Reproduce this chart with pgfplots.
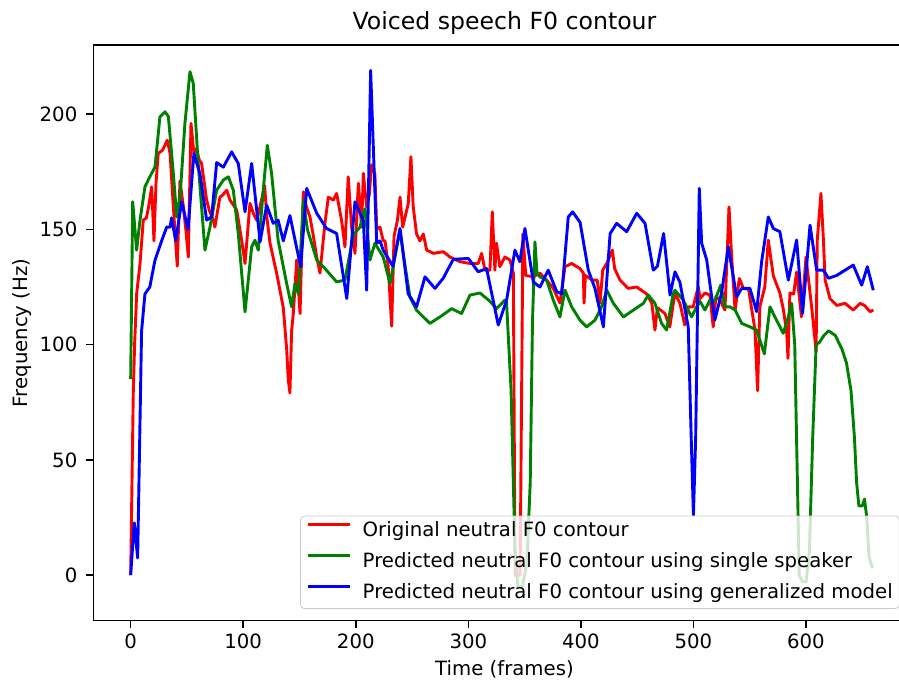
\documentclass[border=0pt]{standalone}
\usepackage{fontspec}
\setmainfont{DejaVu Sans}
\usepackage{pgfplots}
\pgfplotsset{compat=1.18}
\definecolor{mplred}{RGB}{255,0,0}
\definecolor{mplgreen}{RGB}{0,128,0}
\definecolor{mplblue}{RGB}{0,0,255}

\begin{document}
\begin{tikzpicture}
% the reference image is cropped on the right, so clip the picture the same way
\useasboundingbox (-46.65pt,-30.65pt) rectangle (402.85pt,310.35pt);
\clip (-46.65pt,-30.65pt) rectangle (402.85pt,310.35pt);
\begin{axis}[
    at={(0,0)}, anchor=south west,
    scale only axis, width=411.15pt, height=287.85pt,
    xmin=-33.2, xmax=697.4, ymin=-19.8, ymax=230,
    xtick={0,100,...,600}, ytick={0,50,...,200},
    xtick pos=bottom, ytick pos=left, tick align=outside,
    major tick length=3.5pt,
    axis line style={line width=0.78pt},
    every tick/.style={black, line width=0.78pt},
    tick label style={font=\fontsize{9.85}{11.8}\selectfont},
    /pgf/number format/assume math mode=true,
    xticklabel style={anchor=base, yshift=-10.3pt},
    yticklabel style={anchor=east, inner xsep=0pt, xshift=-4.3pt},
    title={Voiced speech F0 contour},
    title style={at={(0.5,1.0065)}, anchor=base, font=\fontsize{11.8}{14}\selectfont},
    xlabel={Time (frames)},
    xlabel style={at={(0.5,-0.0959)}, anchor=base, font=\fontsize{9.85}{11.8}\selectfont},
    ylabel={Frequency (Hz)},
    ylabel style={at={(-0.0802,0.5)}, anchor=base, rotate=0, font=\fontsize{9.85}{11.8}\selectfont},
    legend style={at={(0.2514,0.0203)}, anchor=south west,
        font=\fontsize{9.85}{11.8}\selectfont,
        fill=white, fill opacity=0.8, text opacity=1, draw=black!20, draw opacity=1,
        rounded corners=2pt, inner xsep=3.3pt, inner ysep=3pt,
        row sep=5.9pt, column sep=5.6pt,
        nodes={inner sep=0pt, text height=7.3pt, text depth=2.2pt},
        cells={anchor=west}},
    legend image code/.code={\draw[#1] (0pt,3.5pt) -- (20.8pt,3.5pt);},
    every axis plot/.append style={line width=1.45pt, line join=round},
]
\addplot[mplred] coordinates {
(0,0) (2.3,78.8) (3.5,100) (5.3,122) (8.3,135) (11.2,154) (14,155) (16,160)
(18.7,168.5) (20.7,145) (22.5,170) (24.5,183) (28.4,184.4) (32.5,188.7) (35,183)
(37.9,160) (41.4,134) (43.8,171) (46.8,160) (49,150) (51.2,138) (53.6,196)
(56.2,183) (58.5,185) (61,180) (63,178.6) (67.5,162.7) (70,158) (73.4,154)
(74.8,151) (79.3,164) (82,165) (85.3,167) (88.3,162.7) (94.2,158.4) (98.6,145.3)
(101.6,135.2) (106,161.3) (109,157) (112,154) (115,160) (119,169) (121,155.4)
(123.8,144) (129.7,131) (135.6,116) (138.6,98) (140,85) (141.5,79) (143,106)
(144.5,113.5) (147.5,136.7) (150.5,113.5) (153.4,166.3) (156,160) (159.3,155.4)
(162,148) (165.3,138) (168.2,131) (172.6,152.6) (175.6,164) (180,162.7)
(183,165.6) (187.5,153.5) (190.4,142.4) (193.3,172.8) (196.3,151) (199.3,139.6)
(202.3,170) (205.2,151) (206.7,174.3) (209.7,159.8) (212,165) (214,178) (217,174)
(218.6,150) (221.5,151) (224.4,145) (226,145) (228.8,134) (231.9,108) (234,147)
(237,154) (239.3,164) (241.7,151) (244.6,157) (246.6,161) (249,181.5) (251,160)
(254,148) (257,145) (260,148) (263,141) (268.9,139.6) (277.8,140.3) (283.7,138)
(292.6,136) (301.5,135.2) (308.8,135.2) (311.8,139.6) (314.8,132.3) (319.2,132.3)
(321.3,157.6) (323.6,132.3) (325,144) (328,133.8) (332.5,138) (337,136.7)
(340,131) (341.5,0) (346,0) (348.5,148) (351,130) (357.7,129.4) (363.6,131)
(369.5,128) (375.5,124.4) (381.4,118) (385.9,133.8) (391.8,135.2) (399.2,133)
(402.2,131) (402.8,118) (404,130) (410,128) (414.5,128) (417,118) (419.4,132.3)
(423,135.2) (428,141) (430,133) (434.7,128) (442,124.4) (449.6,125) (458.4,122)
(463,118) (465.8,106.3) (468,116) (474.7,113.5) (479,107.7) (483.5,122.4)
(488,118) (492.3,108.5) (495.4,116.4) (499.8,116.4) (504.3,125) (506,120)
(510.2,122.4) (514.6,121.5) (517.6,107.7) (520,121) (524,119) (528,115)
(531.6,159.8) (534,138) (537,115) (540.8,128.7) (544.4,124.4) (549,124)
(554.7,106.3) (557,80) (559,116.4) (563.4,125) (566.5,145.3) (571,129.8)
(576.8,122.4) (580,115) (582.9,105) (584,94) (585.7,122.4) (589,122) (591.7,131.5)
(596,112) (600,138) (605,116.4) (608,102) (609,97) (610,145.3) (613.3,165.6)
(615.5,145.3) (617,128) (621.3,120) (627.3,117) (634.7,117.9) (642,115)
(648,117.9) (652,117) (656.9,114.3) (659.8,115)
};
\addlegendentry{Original neutral F0 contour}

\addplot[mplgreen] coordinates {
(0,85) (1.8,162) (5.3,141) (8.3,154) (12.7,168.5) (17,172.8) (21.6,177) (26,198.8)
(30.5,201) (33.5,199) (37.9,174.3) (40.9,155.4) (44,165) (48.2,196) (52.7,218.4)
(55.6,213.4) (60,178.6) (66,141) (70.5,151) (76.4,167) (82.3,171.4) (86.8,172.8)
(91.2,167) (95.6,148.2) (101.6,114.2) (107.5,142.4) (110.4,145.3) (113.4,141)
(117.8,167) (121.4,186.5) (125.2,174.3) (131,145.3) (138.6,126.5) (143,116.4)
(146,126.5) (149,122) (153.4,162.7) (157,150) (165.3,136.7) (171.2,133.8)
(183,127.2) (190.4,128) (197.8,147.5) (203.7,151) (208.2,159) (212.6,136.7)
(217,144) (224.4,138) (230.4,126.5) (239.3,149.7) (243.7,134.5) (248.1,120.7)
(254,114.9) (265.9,109.2) (274.8,112) (285.2,115.6) (294,113.5) (301.5,121.5)
(310.4,122.4) (319.2,118.8) (325,115.6) (332.5,119.3) (334,118) (338,80)
(341.4,12) (344,-5) (348,-5) (352,5) (355,40) (357,110) (359.2,144.6) (361,131)
(363.6,129.4) (369.5,128) (375.5,119.3) (381.4,112) (385.9,123.6) (391.8,116.4)
(399.2,110.6) (405.1,107.7) (412.5,110.6) (418.4,116.4) (423,123.6) (428.9,117.9)
(437.8,112) (446.7,115) (455.5,117.9) (459.9,121.5) (465.8,117.9) (471.7,109.2)
(476.2,106.3) (482,122) (483.6,123.6) (491,119.3) (498.4,112) (502.9,116.4)
(505.8,118.8) (510.2,115) (514.6,119.3) (519,119) (524.2,125.8) (528,116.4)
(532.5,116.4) (537,115) (542.9,109.2) (550.2,107.7) (556.2,106.3) (559,102)
(563,96) (568,116.4) (572.4,112) (579.8,104.9) (584.3,112) (587.3,117.9)
(590,100) (592,50) (594,0) (597,-3) (600,-3) (603,10) (606,60) (609,100)
(612,101) (616,104) (620,106) (626,104) (632,98) (636,92) (640,80) (643,60)
(645,40) (647,30) (650,30) (652,33) (654,25) (656,8) (659,3)
};
\addlegendentry{Predicted neutral F0 contour using single speaker}

\addplot[mplblue] coordinates {
(0,0) (3.2,22.7) (6.2,7.4) (9.7,106) (12.7,122) (17,125) (21.6,136.6) (27.5,145)
(32,151) (35,151) (36.4,155) (40,145) (45.3,162) (51,150) (56.2,183) (61.6,174)
(67.5,154) (72,155.5) (76.4,179) (82.3,177) (89.7,183.6) (95.6,178.6)
(101.6,157.6) (107.5,178.6) (115,144.6) (120.8,160.5) (126.7,152.6) (131,154)
(135.6,145) (141.5,156) (151,133.8) (156.4,167.8) (165.3,157) (174,150.4)
(183,148.2) (192,120) (199.3,162) (206.7,154) (209.7,123.6) (213.2,219)
(218.6,144) (221.5,145) (224.4,141) (233,134) (239.3,150.4) (246.6,122)
(254,116.4) (261.5,129.4) (270.4,124.4) (277.7,128.8) (286.6,137) (300,137.4)
(308.8,131.6) (316.2,133) (326.6,108.5) (334,119.3) (341.4,141) (345.8,136)
(350.3,150.4) (357.7,127.2) (363.6,125) (371,132.3) (378.5,123) (383,122)
(388.8,155.4) (392.7,157.6) (399.3,153) (406.6,132.3) (412.5,124.4) (420,107.7)
(426,148.2) (431.8,152.6) (440.7,149) (449.6,157) (457,152.6) (464.3,132.3)
(468,134) (473.5,148.2) (479.2,121.5) (483.6,131.6) (488,127) (495.4,107.7)
(498,60) (500,26) (502,60) (505.2,167.8) (507.3,144) (511.8,136.7) (519,110.6)
(525,122.4) (531,142.4) (538.4,120.7) (542.8,124.4) (550.2,124.4) (556.2,114.3)
(560.6,136) (566.5,155.4) (571,150.4) (576.8,149) (584.3,128) (591.7,145.4)
(597,113.5) (603.6,151.8) (609.5,132.3) (615.5,132.3) (620,128.8) (627.3,130)
(634.7,132.3) (642,134.5) (649.5,125.8) (654.5,133.8) (659.8,123.6)
};
\addlegendentry{Predicted neutral F0 contour using generalized model}
\end{axis}
\end{tikzpicture}
\end{document}
